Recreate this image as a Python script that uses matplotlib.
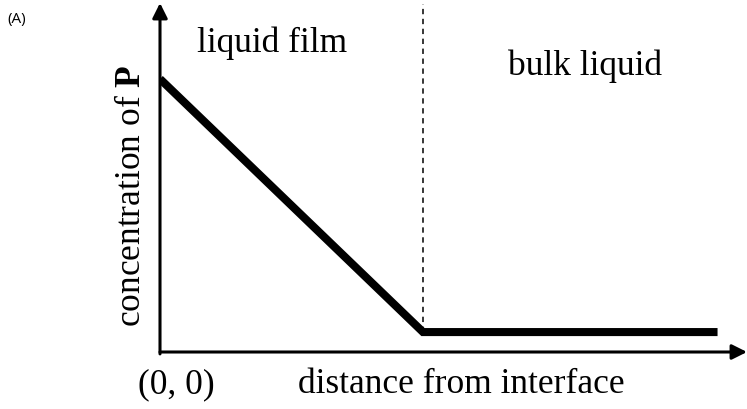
import matplotlib
matplotlib.use('Agg')
import matplotlib.pyplot as plt

# fonts: Times-like serif for the sketch, mathtext bold P
plt.rcParams['font.family'] = 'Liberation Serif'
plt.rcParams['mathtext.fontset'] = 'custom'
plt.rcParams['mathtext.rm'] = 'Liberation Serif'
plt.rcParams['mathtext.bf'] = 'Liberation Serif:bold'

# concentration profile of P across the film (arbitrary units)
distance = [0.0, 1.0, 2.12]
concentration = [1.0, 0.073, 0.073]
film_edge = 1.0
x_max = 2.232
y_max = 1.278

region_labels = ['liquid film', 'bulk liquid']
region_x = [0.426, 1.616]
region_y = [1.103, 1.018]

fig = plt.figure(figsize=(7.47, 4.10), dpi=100)
ax = fig.add_axes([160/747, 57/410, 587/747, 349/410])
ax.set_xlim(0, x_max)
ax.set_ylim(0, y_max)
ax.set_axis_off()

# axes drawn as arrows
arrow = dict(arrowstyle='-|>,head_length=0.6,head_width=0.3',
             mutation_scale=15, lw=2.2, color='black',
             shrinkA=0, shrinkB=0)
ax.annotate('', xy=(x_max, 0), xytext=(0, 0), arrowprops=arrow,
            annotation_clip=False)
ax.annotate('', xy=(0, y_max), xytext=(0, -0.007), arrowprops=arrow,
            annotation_clip=False)

# film boundary
ax.plot([film_edge, film_edge], [concentration[1], y_max - 0.005],
        color='black', lw=1.1, linestyle=(0, (3.5, 3)))

# profile
ax.plot(distance, concentration, color='black', lw=5.8,
        solid_capstyle='butt', solid_joinstyle='miter')

for lab, x, y in zip(region_labels, region_x, region_y):
    ax.text(x, y, lab, ha='center', va='baseline', fontsize=25.5)

ax.text(1.146, -0.147, 'distance from interface', ha='center',
        va='baseline', fontsize=25.5)
ax.text(0.061, -0.147, '(0, 0)', ha='center', va='baseline',
        fontsize=25.5, clip_on=False)
ax.text(-0.110, 0.575, r'concentration of $\mathbf{P}$', rotation=90,
        ha='center', va='center', fontsize=25.5)

fig.text(7/747, 1 - 20/410, '(A)', fontfamily='Open Sans', fontsize=11,
         ha='left', va='center')

fig.savefig('out.png', dpi=100)
